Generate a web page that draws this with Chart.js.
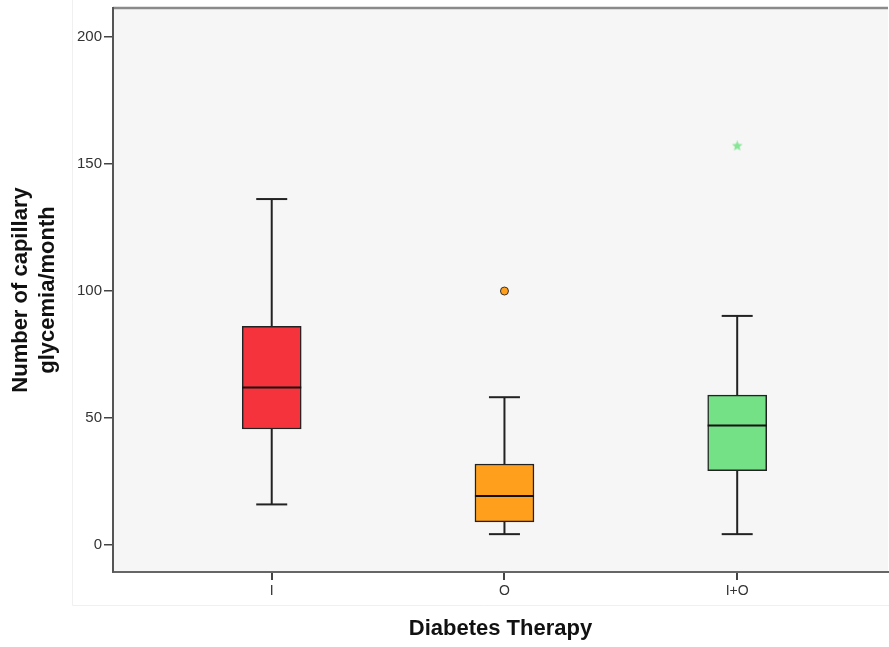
<!DOCTYPE html>
<html>
<head>
<meta charset="utf-8">
<script src="https://cdn.jsdelivr.net/npm/chart.js@4"></script>
<style>
  html, body { margin: 0; padding: 0; background: #ffffff; overflow: hidden; }
  #wrap { width: 889px; height: 647px; overflow: hidden; }
  #chart1 { display: block; }
</style>
</head>
<body>
<div id="wrap"><canvas id="chart1" width="894" height="647"></canvas></div>
<script>
// グループと箱ひげ図の値
const therapies = ['I', 'O', 'I+O'];
const whiskerLow = [16, 4.3, 4.3];
const q1 = [45.7, 9.1, 29.3];
const median = [62, 19.3, 47.1];
const q3 = [86.1, 31.9, 59];
const whiskerHigh = [136.2, 58.2, 90.2];
const boxColors = ['#f5333d', '#ff9f1c', '#74e186'];

// 外れ値 (○) と極値 (★)
const outlierX = [2];
const outlierY = [100];
const extremeX = [3];
const extremeY = [157.1];

const yTicks = [0, 50, 100, 150, 200];

// ★ の形を小さいキャンバスに描く
function makeStar(size, color) {
    const c = document.createElement('canvas');
    c.width = size; c.height = size;
    const g = c.getContext('2d');
    const cx = size / 2, cy = size / 2, R = size / 2, r = R * 0.45;
    g.beginPath();
    for (let k = 0; k < 10; k++) {
        const rad = k % 2 === 0 ? R : r;
        const a = -Math.PI / 2 + k * Math.PI / 5;
        g.lineTo(cx + rad * Math.cos(a), cy + rad * Math.sin(a));
    }
    g.closePath();
    g.fillStyle = color;
    g.fill();
    return c;
}

// 背景と枠線
const backgroundPlugin = {
    id: 'bg',
    beforeDraw(chart) {
        const ctx = chart.ctx;
        const a = chart.chartArea;
        ctx.save();
        ctx.fillStyle = '#ffffff';
        ctx.fillRect(0, 0, chart.width, chart.height);
        ctx.strokeStyle = '#f0f0f0';
        ctx.lineWidth = 1;
        ctx.beginPath();
        ctx.moveTo(72.5, 0);
        ctx.lineTo(72.5, 605.5);
        ctx.lineTo(chart.width, 605.5);
        ctx.stroke();
        ctx.fillStyle = '#f6f6f6';
        ctx.fillRect(a.left, a.top, a.right - a.left, a.bottom - a.top);
        ctx.strokeStyle = '#8a8a8a';
        ctx.lineWidth = 2.5;
        ctx.beginPath();
        ctx.moveTo(a.left, a.top);
        ctx.lineTo(a.right, a.top);
        ctx.stroke();
        ctx.restore();
    }
};

// ひげと中央値の線
const boxplotPlugin = {
    id: 'boxplot',
    beforeDatasetsDraw(chart) {
        const ctx = chart.ctx;
        const xs = chart.scales.x, ys = chart.scales.y;
        ctx.save();
        ctx.strokeStyle = '#222222';
        ctx.lineWidth = 2;
        therapies.forEach((t, i) => {
            const px = xs.getPixelForValue(i + 1);
            const capHalf = 15.5;
            [[whiskerLow[i], q1[i]], [q3[i], whiskerHigh[i]]].forEach(([a, b]) => {
                ctx.beginPath();
                ctx.moveTo(px, ys.getPixelForValue(a));
                ctx.lineTo(px, ys.getPixelForValue(b));
                ctx.stroke();
            });
            [whiskerLow[i], whiskerHigh[i]].forEach(v => {
                const py = ys.getPixelForValue(v);
                ctx.beginPath();
                ctx.moveTo(px - capHalf, py);
                ctx.lineTo(px + capHalf, py);
                ctx.stroke();
            });
        });
        ctx.restore();
    },
    afterDatasetsDraw(chart) {
        const ctx = chart.ctx;
        const xs = chart.scales.x, ys = chart.scales.y;
        ctx.save();
        ctx.strokeStyle = '#111111';
        ctx.lineWidth = 2;
        therapies.forEach((t, i) => {
            const px = xs.getPixelForValue(i + 1);
            const py = ys.getPixelForValue(median[i]);
            ctx.beginPath();
            ctx.moveTo(px - 29.5, py);
            ctx.lineTo(px + 29.5, py);
            ctx.stroke();
        });
        ctx.restore();
    }
};

const ctx = document.getElementById('chart1').getContext('2d');
new Chart(ctx, {
    type: 'bar',
    data: {
        datasets: [
            {
                type: 'scatter',
                data: extremeX.map((x, i) => ({ x: x, y: extremeY[i] })),
                pointStyle: makeStar(11, '#86e596'),
                pointRadius: 5
            },
            {
                type: 'scatter',
                data: outlierX.map((x, i) => ({ x: x, y: outlierY[i] })),
                pointStyle: 'circle',
                pointRadius: 4,
                backgroundColor: boxColors[1],
                borderColor: '#333333',
                borderWidth: 1
            },
            {
                type: 'bar',
                data: therapies.map((t, i) => ({ x: i + 1, y: [q1[i], q3[i]] })),
                backgroundColor: boxColors,
                borderColor: '#222222',
                borderWidth: 1.5,
                borderSkipped: false,
                barThickness: 59
            }
        ]
    },
    options: {
        responsive: false,
        animation: false,
        layout: { padding: { top: 8, left: 0, right: 0, bottom: 0 } },
        plugins: {
            legend: { display: false },
            tooltip: { enabled: false }
        },
        scales: {
            x: {
                type: 'linear',
                offset: false,
                min: 0.318,
                max: 3.648,
                afterBuildTicks: s => { s.ticks = therapies.map((t, i) => ({ value: i + 1 })); },
                afterFit: s => { s.height = 75; s.paddingLeft = 0; s.paddingRight = 0; },
                ticks: {
                    callback: v => therapies[v - 1],
                    color: '#333333',
                    font: { family: 'Liberation Sans, Arial', size: 14 },
                    padding: 3,
                    maxRotation: 0,
                    autoSkip: false
                },
                grid: { offset: false, drawOnChartArea: false, drawTicks: true, tickLength: 8, color: '#444444', lineWidth: 2 },
                border: { display: true, color: '#666666', width: 2 },
                title: {
                    display: true,
                    text: 'Diabetes Therapy',
                    color: '#111111',
                    font: { family: 'Liberation Sans, Arial', size: 22, weight: 'bold' },
                    padding: { top: 0, bottom: 5 }
                }
            },
            y: {
                type: 'linear',
                min: -10.6,
                max: 211.4,
                afterBuildTicks: s => { s.ticks = yTicks.map(v => ({ value: v })); },
                afterFit: s => { s.width = 113; s.paddingTop = 0; s.paddingBottom = 0; },
                ticks: {
                    color: '#333333',
                    font: { family: 'Liberation Sans, Arial', size: 15 },
                    padding: 2
                },
                grid: { drawOnChartArea: false, drawTicks: true, tickLength: 9, color: '#444444', lineWidth: 1.5 },
                border: { display: true, color: '#555555', width: 2 },
                title: {
                    display: true,
                    text: ['Number of capillary', 'glycemia/month'],
                    color: '#111111',
                    font: { family: 'Liberation Sans, Arial', size: 22, weight: 'bold', lineHeight: 1.25 },
                    padding: { top: 7, bottom: 0 }
                }
            }
        }
    },
    plugins: [backgroundPlugin, boxplotPlugin]
});
</script>
</body>
</html>
